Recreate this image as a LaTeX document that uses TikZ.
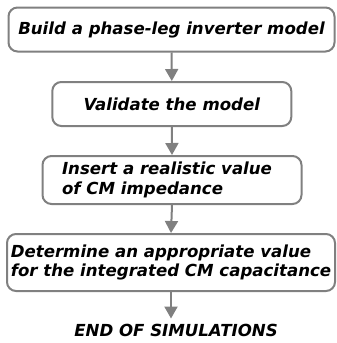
\documentclass[tikz,border=0pt]{standalone}
\usepackage{fontspec}
\setmainfont{DejaVu Sans}
\usetikzlibrary{arrows.meta}
\definecolor{linegray}{RGB}{128,128,128}
\begin{document}
\begin{tikzpicture}[x=1pt,y=-1pt,
  txt/.style={font=\fontsize{16.6}{19.5}\selectfont\bfseries\itshape},
  stepbox/.style={txt, draw=linegray, line width=2pt, rounded corners=9pt, fill=white,
    inner sep=0pt},
  flow/.style={draw=linegray, line width=2pt, -{Triangle[width=13pt,length=12pt]}}]
\useasboundingbox (0,0) rectangle (337,343);
\node[stepbox, minimum width=326pt, minimum height=44pt] (b1) at (171.5,29.5) {Build a phase-leg inverter model};
\node[stepbox, minimum width=239pt, minimum height=44pt] (b2) at (171.8,104) {Validate the model};
\node[stepbox, minimum width=259pt, minimum height=48pt] (b3) at (172,180) {\vbox{\hbox{Insert a realistic value\kern10pt}\hbox{of CM impedance}}};
\node[stepbox, minimum width=328pt, minimum height=57pt, align=left] (b4) at (171,262.5) {Determine an appropriate value\\for the integrated CM capacitance};
\node[txt, inner sep=0pt] (endn) at (176,330) {END OF SIMULATIONS};
\draw[flow] (b1.south) -- (b2.north);
\draw[flow] (b2.south) -- (b3.north);
\draw[flow] (b3.south) -- (b4.north);
\draw[flow, shorten >=5pt] (b4.south) -- (b4.south |- endn.north);
\end{tikzpicture}
\end{document}
